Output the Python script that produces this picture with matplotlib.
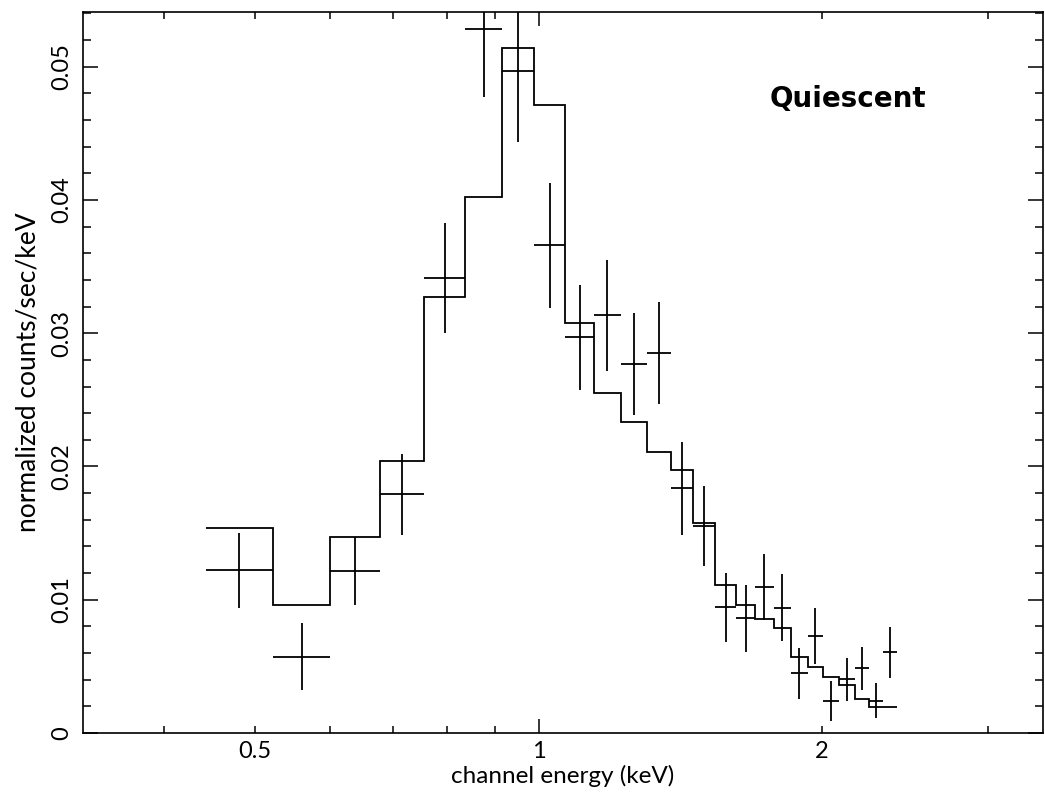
import numpy as np
import matplotlib
matplotlib.use("Agg")
import matplotlib.pyplot as plt
from matplotlib.ticker import FixedLocator, FuncFormatter

# Channel bin edges (keV)
bin_edges = [0.443, 0.522, 0.601, 0.679, 0.756, 0.836, 0.914, 0.990, 1.067,
             1.145, 1.223, 1.303, 1.383, 1.458, 1.540, 1.620, 1.698, 1.776,
             1.853, 1.930, 2.006, 2.085, 2.165, 2.244, 2.320, 2.401]

# Folded model (counts/sec/keV) per bin
model_rate = [0.01535, 0.00957, 0.01468, 0.02042, 0.03273, 0.04023, 0.0514,
              0.0471, 0.0308, 0.02555, 0.02335, 0.0211, 0.0197, 0.01573,
              0.0111, 0.0096, 0.00855, 0.0079, 0.00568, 0.00498, 0.00418,
              0.0036, 0.00255, 0.00198, 0.00198]

# Observed rate and 1-sigma errors per bin
data_rate = [0.01222, 0.00572, 0.01217, 0.0179, 0.03415, 0.0528, 0.04965,
             0.0366, 0.02968, 0.03135, 0.02768, 0.02852, 0.01835, 0.01553,
             0.00943, 0.0086, 0.01097, 0.0094, 0.00448, 0.00728, 0.00243,
             0.00403, 0.00485, 0.00243, 0.00605]
data_err = [0.00281, 0.0025, 0.00256, 0.00304, 0.0041, 0.0051, 0.0053,
            0.0047, 0.00396, 0.00415, 0.0038, 0.0038, 0.0035, 0.003,
            0.0026, 0.0025, 0.0025, 0.0025, 0.0019, 0.0021, 0.0015,
            0.0016, 0.0016, 0.0013, 0.0019]

x_tick_values = [0.4, 0.5, 0.6, 0.7, 0.8, 0.9, 2, 3]
x_tick_labels = {0.5: "0.5", 2: "2"}
y_tick_values = [0, 0.01, 0.02, 0.03, 0.04, 0.05]
y_tick_labels = ["0", "0.01", "0.02", "0.03", "0.04", "0.05"]

plt.rcParams["font.family"] = ["Lato", "DejaVu Sans"]

fig = plt.figure(figsize=(10.45, 7.96), dpi=100)
ax = fig.add_axes([0.0797, 0.0791, 0.9181, 0.9058])

edges = np.array(bin_edges)
centers = np.sqrt(edges[:-1] * edges[1:])
xerr = np.vstack([centers - edges[:-1], edges[1:] - centers])

lw = 1.3
ax.stairs(model_rate, edges, color="black", linewidth=lw, baseline=None)
ax.errorbar(centers, data_rate, yerr=data_err, xerr=xerr, fmt="none",
            ecolor="black", elinewidth=lw, capsize=0)

ax.set_xscale("log")
ax.set_xlim(0.3285, 3.43)
ax.set_ylim(0, 0.0541)

# x axis: long tick at 1 keV, short ticks elsewhere
ax.xaxis.set_major_locator(FixedLocator([1.0]))
ax.xaxis.set_major_formatter(FuncFormatter(lambda v, p: "1"))
ax.xaxis.set_minor_locator(FixedLocator(x_tick_values))
ax.xaxis.set_minor_formatter(
    FuncFormatter(lambda v, p: x_tick_labels.get(round(v, 3), "")))

ax.set_yticks(y_tick_values)
ax.set_yticklabels(y_tick_labels)
ax.yaxis.set_minor_locator(FixedLocator(np.arange(0, 0.0541, 0.002)))

ax.tick_params(axis="both", which="both", direction="in", top=True,
               right=True, width=1.1, color="black")
ax.tick_params(axis="x", which="major", length=10, pad=6, labelsize=17)
ax.tick_params(axis="x", which="minor", length=5, pad=6, labelsize=17)
ax.tick_params(axis="y", which="major", length=11, pad=8, labelsize=17)
ax.tick_params(axis="y", which="minor", length=6)

for lbl in ax.get_yticklabels():
    lbl.set_rotation(90)
    lbl.set_va("center")

for s in ax.spines.values():
    s.set_linewidth(1.2)

ax.set_xlabel("channel energy (keV)", fontsize=17.5, labelpad=2)
ax.set_ylabel("normalized counts/sec/keV", fontsize=19, labelpad=8)

ax.text(0.797, 0.879, "Quiescent", transform=ax.transAxes, fontsize=20,
        fontweight="black", family=["DejaVu Sans"], ha="center", va="center")

fig.savefig("out.png", dpi=100)
